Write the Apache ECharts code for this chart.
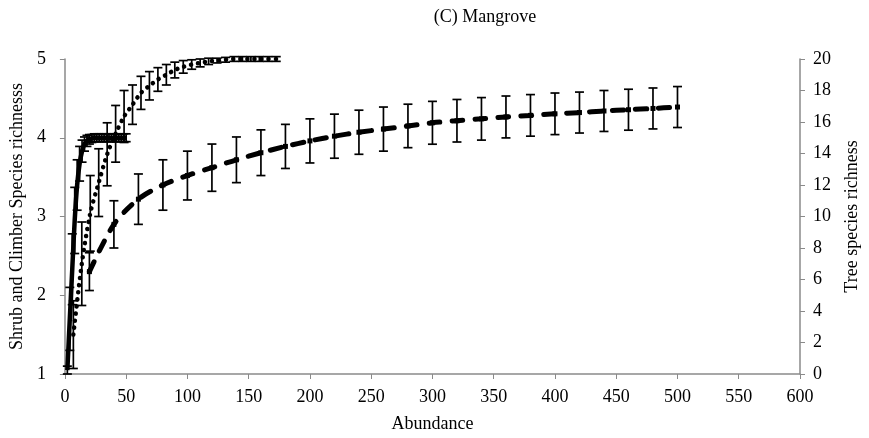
<!DOCTYPE html>
<html><head><meta charset="utf-8">
<script src="https://cdn.jsdelivr.net/npm/echarts@6/dist/echarts.min.js"></script>
<style>html,body{margin:0;padding:0;background:#fff}#c{width:869px;height:438px}</style>
</head><body><div id="c"></div>
<script>
// Shrub (solid line, left axis)
const shrubX = [2,4,6,8,10,12,14,16,18,20,22,24,26,28,30,32,34,36,38,40,42,44,46,48,50];
const shrubY = [1.05,1.7,2.33,2.95,3.4,3.67,3.83,3.92,3.96,3.98,3.99,4,4,4,4,4,4,4,4,4,4,4,4,4,4];
const shrubErr = [0.05,0.4,0.45,0.42,0.32,0.22,0.14,0.09,0.07,0.06,0.05,0.05,0.05,0.05,0.05,0.05,0.05,0.05,0.05,0.05,0.05,0.05,0.05,0.05,0.05];
// Climber (dotted line, left axis)
const climbX = [6.9,13.8,20.7,27.6,34.5,41.4,48.3,55.2,62.1,69,75.9,82.8,89.7,96.6,103.5,110.4,117.3,124.2,131.1,138,144.9,151.8,158.7,165.6,172.5];
const climbY = [1.5,2.4,3.04,3.43,3.79,4.05,4.27,4.42,4.57,4.66,4.74,4.8,4.86,4.9,4.93,4.95,4.97,4.98,4.99,5,5,5,5,5,5];
const climbErr = [0.43,0.53,0.48,0.43,0.4,0.36,0.33,0.25,0.21,0.18,0.15,0.13,0.1,0.08,0.06,0.05,0.04,0.03,0.03,0.03,0.03,0.03,0.03,0.03,0.03];
// Tree (dashed line, right axis)
const treeX = [20,40,60,80,100,120,140,160,180,200,220,240,260,280,300,320,340,360,380,400,420,440,460,480,500];
const treeY = [6.5,9.5,11.1,12.0,12.6,13.1,13.6,14.05,14.45,14.8,15.1,15.35,15.55,15.75,15.95,16.08,16.2,16.32,16.42,16.52,16.6,16.7,16.78,16.86,16.95];
const treeErr = [1.2,1.5,1.6,1.6,1.55,1.5,1.45,1.45,1.4,1.4,1.4,1.4,1.4,1.38,1.36,1.35,1.35,1.33,1.32,1.32,1.3,1.3,1.3,1.3,1.3];

const xTicks = [0,50,100,150,200,250,300,350,400,450,500,550,600];

const FONT = 'Liberation Serif';
const FS = 18;
const AXC = '#8a8a8a';

function pairs(xs, ys){ return xs.map((x,i)=>[x, ys[i]]); }
function errData(xs, ys, es){ return xs.map((x,i)=>[x, ys[i], ys[i]-es[i], ys[i]+es[i]]); }
function errRender(params, api){
  const x = api.value(0), lo = api.value(2), hi = api.value(3);
  const a = api.coord([x, hi]), b = api.coord([x, lo]);
  const w = 4.5;
  const st = {stroke:'#000', lineWidth:1.7};
  return {type:'group', children:[
    {type:'line', shape:{x1:a[0], y1:a[1], x2:b[0], y2:b[1]}, style:st},
    {type:'line', shape:{x1:a[0]-w, y1:a[1], x2:a[0]+w, y2:a[1]}, style:st},
    {type:'line', shape:{x1:b[0]-w, y1:b[1], x2:b[0]+w, y2:b[1]}, style:st}
  ]};
}

const chart = echarts.init(document.getElementById('c'), null, {renderer:'canvas'});
chart.setOption({
  animation:false,
  backgroundColor:'#fff',
  title:{text:'(C) Mangrove', left:480, top:3, textAlign:'center',
    textStyle:{fontFamily:FONT, fontSize:FS, fontWeight:'normal', color:'#000'}},
  grid:{left:61, right:69, top:59, bottom:61, containLabel:false},
  xAxis:{type:'value', min:0, max:600, interval:50,
    name:'Abundance', nameLocation:'middle', nameGap:41,
    nameTextStyle:{fontFamily:FONT, fontSize:FS, color:'#000'},
    axisLine:{show:true, lineStyle:{color:AXC, width:1.5}},
    axisTick:{show:true, length:5, lineStyle:{color:AXC}},
    axisLabel:{fontFamily:FONT, fontSize:FS, color:'#000', margin:14,
      formatter:v=> xTicks.indexOf(v)>=0 ? String(v) : ''},
    splitLine:{show:false}},
  yAxis:[
    {type:'value', min:1, max:5, interval:1, position:'left',
     name:'Shrub and Climber Species richnesss', nameLocation:'middle', nameGap:34, nameRotate:90,
     nameTextStyle:{fontFamily:FONT, fontSize:FS, color:'#000'},
     axisLine:{show:true, lineStyle:{color:AXC, width:1.5}},
     axisTick:{show:true, length:5, lineStyle:{color:AXC}},
     axisLabel:{fontFamily:FONT, fontSize:FS, color:'#000', margin:19},
     splitLine:{show:false}},
    {type:'value', min:0, max:20, interval:2, position:'right',
     name:'Tree species richness', nameLocation:'middle', nameGap:43, nameRotate:90,
     nameTextStyle:{fontFamily:FONT, fontSize:FS, color:'#000'},
     axisLine:{show:true, lineStyle:{color:AXC, width:1.5}},
     axisTick:{show:true, length:5, lineStyle:{color:AXC}},
     axisLabel:{fontFamily:FONT, fontSize:FS, color:'#000', margin:13},
     splitLine:{show:false}}
  ],
  series:[
    {type:'custom', name:'shrubErr', yAxisIndex:0, renderItem:errRender,
     encode:{x:0, y:[1,2,3]}, data:errData(shrubX, shrubY, shrubErr), z:3},
    {type:'custom', name:'climbErr', yAxisIndex:0, renderItem:errRender,
     encode:{x:0, y:[1,2,3]}, data:errData(climbX, climbY, climbErr), z:3},
    {type:'custom', name:'treeErr', yAxisIndex:1, renderItem:errRender,
     encode:{x:0, y:[1,2,3]}, data:errData(treeX, treeY, treeErr), z:3},
    {type:'line', name:'Shrub', yAxisIndex:0, data:pairs(shrubX, shrubY), smooth:0.3,
     showSymbol:false, symbol:'none', lineStyle:{color:'#000', width:4.5}, z:4},
    {type:'line', name:'Climber', yAxisIndex:0, data:pairs(climbX, climbY), smooth:0.3,
     showSymbol:false, symbol:'none', lineStyle:{color:'#000', width:4.5, type:[0.1,7], cap:'round'}, z:4},
    {type:'line', name:'Tree', yAxisIndex:1, data:pairs(treeX, treeY), smooth:0.3,
     symbol:'rect', symbolSize:5, itemStyle:{color:'#000'},
     lineStyle:{color:'#000', width:5, type:[11,12], cap:'round'}, z:4}
  ]
});
</script>
</body></html>
